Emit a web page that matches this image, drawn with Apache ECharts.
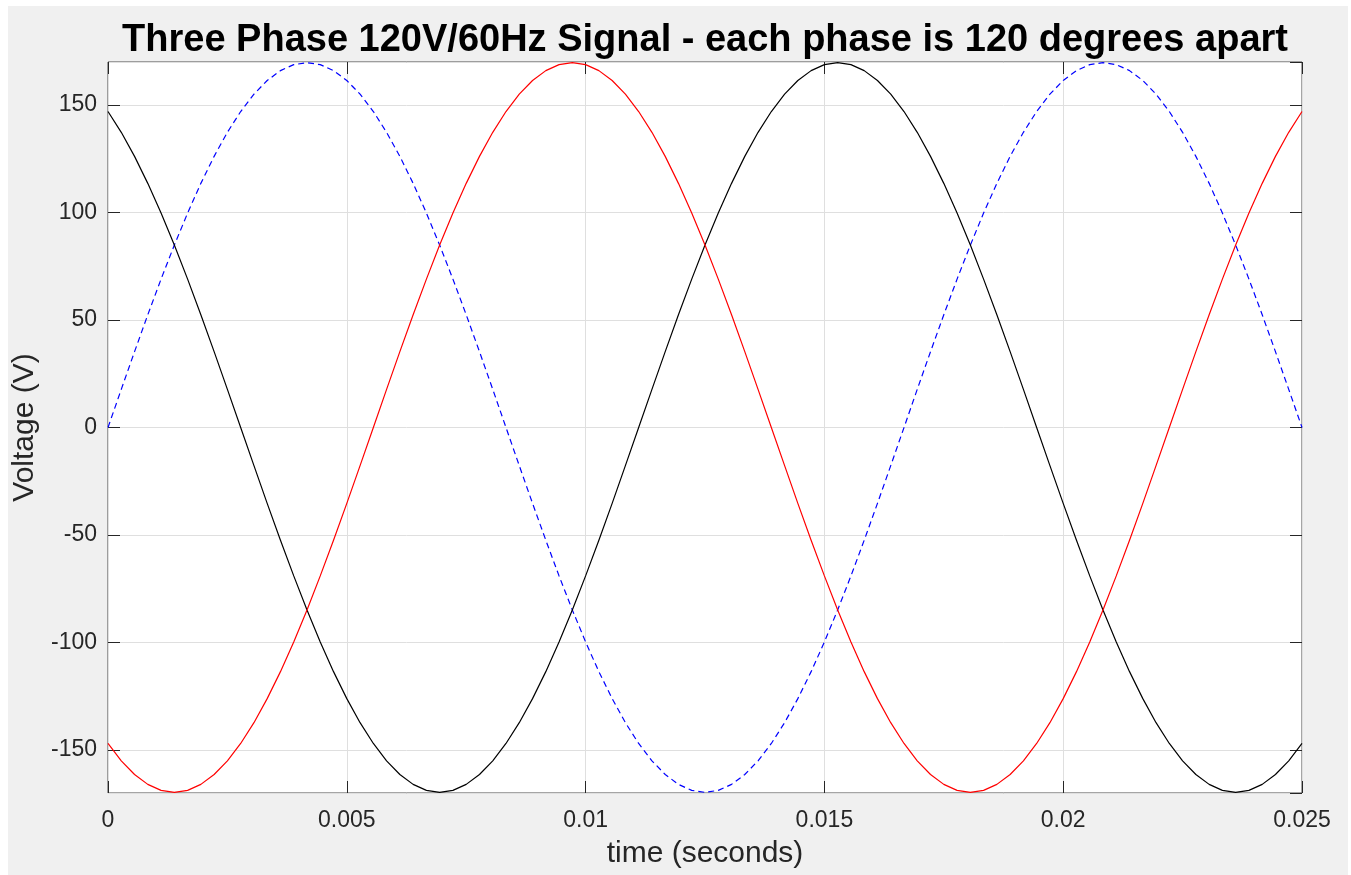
<!DOCTYPE html>
<html><head><meta charset="utf-8">
<script src="https://cdn.jsdelivr.net/npm/echarts@6/dist/echarts.min.js"></script>
<style>
html,body{margin:0;padding:0;background:#fff;width:1351px;height:875px;overflow:hidden}
#c{position:absolute;left:8px;top:6px;width:1340px;height:869px;background:#f0f0f0}
</style>
</head><body><div id="c"></div>
<script>
const titleText = 'Three Phase 120V/60Hz Signal - each phase is 120 degrees apart';
const xName = 'time (seconds)';
const yName = 'Voltage (V)';
const xTicks = [0, 0.005, 0.01, 0.015, 0.02, 0.025];
const yTicks = [-150, -100, -50, 0, 50, 100, 150];

const timeSec = [
0,0.000278,0.000556,0.000833,0.001111,0.001389,0.001667,0.001944,0.002222,0.0025,
0.002778,0.003056,0.003333,0.003611,0.003889,0.004167,0.004444,0.004722,0.005,0.005278,
0.005556,0.005833,0.006111,0.006389,0.006667,0.006944,0.007222,0.0075,0.007778,0.008056,
0.008333,0.008611,0.008889,0.009167,0.009444,0.009722,0.01,0.010278,0.010556,0.010833,
0.011111,0.011389,0.011667,0.011944,0.012222,0.0125,0.012778,0.013056,0.013333,0.013611,
0.013889,0.014167,0.014444,0.014722,0.015,0.015278,0.015556,0.015833,0.016111,0.016389,
0.016667,0.016944,0.017222,0.0175,0.017778,0.018056,0.018333,0.018611,0.018889,0.019167,
0.019444,0.019722,0.02,0.020278,0.020556,0.020833,0.021111,0.021389,0.021667,0.021944,
0.022222,0.0225,0.022778,0.023056,0.023333,0.023611,0.023889,0.024167,0.024444,0.024722,
0.025];

const phaseBlue = [
0,17.74,35.28,52.44,69.02,84.85,99.75,113.55,126.11,137.29,146.97,155.03,161.4,165.99,168.77,169.7,168.77,165.99,161.4,155.03,146.97,137.29,126.11,113.55,99.75,84.85,69.02,52.44,35.28,17.74,
0,-17.74,-35.28,-52.44,-69.02,-84.85,-99.75,-113.55,-126.11,-137.29,-146.97,-155.03,-161.4,-165.99,-168.77,-169.7,-168.77,-165.99,-161.4,-155.03,-146.97,-137.29,-126.11,-113.55,-99.75,-84.85,-69.02,-52.44,-35.28,-17.74,
0,17.74,35.28,52.44,69.02,84.85,99.75,113.55,126.11,137.29,146.97,155.03,161.4,165.99,168.77,169.7,168.77,165.99,161.4,155.03,146.97,137.29,126.11,113.55,99.75,84.85,69.02,52.44,35.28,17.74,
0];

const phaseBlack = [
146.97,137.29,126.11,113.55,99.75,84.85,69.02,52.44,35.28,17.74,
0,-17.74,-35.28,-52.44,-69.02,-84.85,-99.75,-113.55,-126.11,-137.29,-146.97,-155.03,-161.4,-165.99,-168.77,-169.7,-168.77,-165.99,-161.4,-155.03,-146.97,-137.29,-126.11,-113.55,-99.75,-84.85,-69.02,-52.44,-35.28,-17.74,
0,17.74,35.28,52.44,69.02,84.85,99.75,113.55,126.11,137.29,146.97,155.03,161.4,165.99,168.77,169.7,168.77,165.99,161.4,155.03,146.97,137.29,126.11,113.55,99.75,84.85,69.02,52.44,35.28,17.74,
0,-17.74,-35.28,-52.44,-69.02,-84.85,-99.75,-113.55,-126.11,-137.29,-146.97,-155.03,-161.4,-165.99,-168.77,-169.7,-168.77,-165.99,-161.4,-155.03,-146.97];

const phaseRed = [
-146.97,-155.03,-161.4,-165.99,-168.77,-169.7,-168.77,-165.99,-161.4,-155.03,-146.97,-137.29,-126.11,-113.55,-99.75,-84.85,-69.02,-52.44,-35.28,-17.74,
0,17.74,35.28,52.44,69.02,84.85,99.75,113.55,126.11,137.29,146.97,155.03,161.4,165.99,168.77,169.7,168.77,165.99,161.4,155.03,146.97,137.29,126.11,113.55,99.75,84.85,69.02,52.44,35.28,17.74,
0,-17.74,-35.28,-52.44,-69.02,-84.85,-99.75,-113.55,-126.11,-137.29,-146.97,-155.03,-161.4,-165.99,-168.77,-169.7,-168.77,-165.99,-161.4,-155.03,-146.97,-137.29,-126.11,-113.55,-99.75,-84.85,-69.02,-52.44,-35.28,-17.74,
0,17.74,35.28,52.44,69.02,84.85,99.75,113.55,126.11,137.29,146.97];

const zip = (vals) => timeSec.map((t, i) => [t, vals[i]]);
const FONT = "'Liberation Sans', Arial, Helvetica, sans-serif";
const AX = '#262626';
const fmtFrom = (list) => (v) => { const t = list.find(x => Math.abs(x - v) < 1e-9); return t === undefined ? '' : String(t); };

const chart = echarts.init(document.getElementById('c'), null, {renderer: 'canvas'});
const GL = 100, GT = 56, GW = 1194, GH = 731;
const tick = {show: true, inside: true, length: 12, lineStyle: {color: AX, width: 1}};
chart.setOption({
  animation: false,
  backgroundColor: '#f0f0f0',
  textStyle: {fontFamily: FONT},
  graphic: [{
    type: 'text', x: GL + GW / 2, y: 35, z: 10,
    style: {text: titleText, fill: '#000', font: "bold 38px " + FONT, textAlign: 'center', textVerticalAlign: 'middle', align: 'center', verticalAlign: 'middle'}
  }],
  grid: {left: GL, top: GT, width: GW, height: GH, show: true, backgroundColor: '#fff', borderColor: '#4a4a4a', borderWidth: 1, containLabel: false, outerBoundsMode: 'none'},
  xAxis: [{
    type: 'value', min: 0, max: 0.025, interval: 0.005, position: 'bottom',
    name: xName, nameLocation: 'middle', nameGap: 46,
    nameTextStyle: {fontSize: 30, color: AX, fontFamily: FONT},
    axisLine: {show: false, onZero: false},
    axisTick: tick,
    axisLabel: {margin: 16, fontSize: 23, color: AX, fontFamily: FONT, formatter: fmtFrom(xTicks)},
    splitLine: {show: true, lineStyle: {color: '#dfdfdf', width: 1}}
  }, {
    type: 'value', min: 0, max: 0.025, interval: 0.005, position: 'top',
    axisLine: {show: false, onZero: false},
    axisTick: tick,
    axisLabel: {show: false}, splitLine: {show: false}
  }],
  yAxis: [{
    type: 'value', min: -170, max: 170, splitNumber: 6, position: 'left',
    name: yName, nameLocation: 'middle', nameGap: 62, nameRotate: 90,
    nameTextStyle: {fontSize: 30, color: AX, fontFamily: FONT},
    axisLine: {show: false, onZero: false},
    axisTick: tick,
    axisLabel: {margin: 11, fontSize: 23, color: AX, fontFamily: FONT, showMinLabel: false, showMaxLabel: false, formatter: fmtFrom(yTicks)},
    splitLine: {show: true, lineStyle: {color: '#dfdfdf', width: 1}}
  }, {
    type: 'value', min: -170, max: 170, splitNumber: 6, position: 'right',
    axisLine: {show: false, onZero: false},
    axisTick: tick,
    axisLabel: {show: false}, splitLine: {show: false}
  }],
  series: [
    {type: 'line', name: 'B', data: zip(phaseBlue), showSymbol: false, symbol: 'none', xAxisIndex: 0, yAxisIndex: 0,
     lineStyle: {color: '#0000ff', width: 1.2, type: [6, 4]}},
    {type: 'line', name: 'K', data: zip(phaseBlack), showSymbol: false, symbol: 'none', xAxisIndex: 0, yAxisIndex: 0,
     lineStyle: {color: '#000000', width: 1.2}},
    {type: 'line', name: 'R', data: zip(phaseRed), showSymbol: false, symbol: 'none', xAxisIndex: 0, yAxisIndex: 0,
     lineStyle: {color: '#ff0000', width: 1.2}}
  ]
});
</script>
</body></html>
